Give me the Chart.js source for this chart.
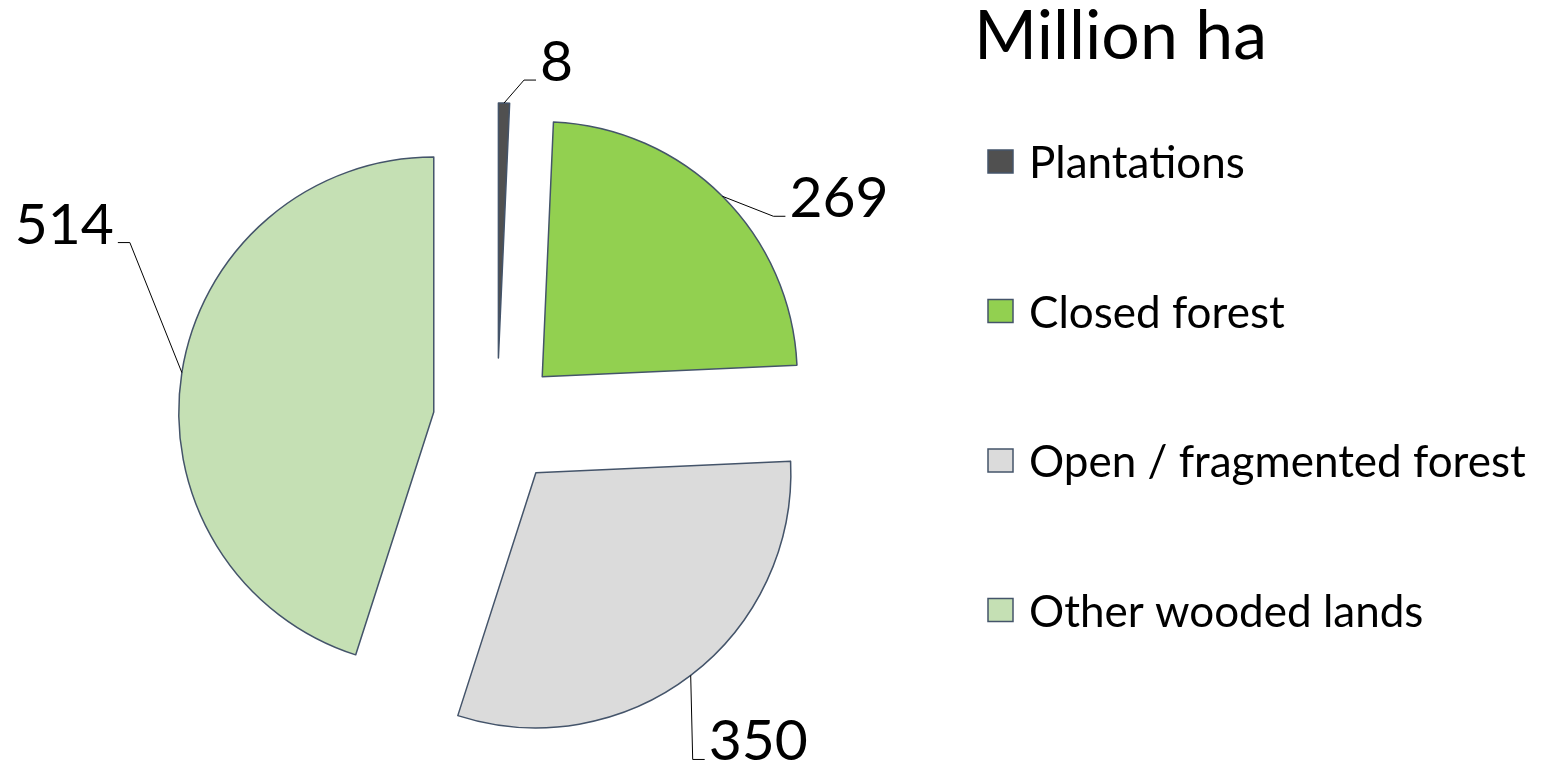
<!DOCTYPE html>
<html>
<head>
<meta charset="utf-8">
<script src="https://cdn.jsdelivr.net/npm/chart.js@4/dist/chart.umd.min.js"></script>
<style>
  html, body { margin: 0; padding: 0; background: #fff; }
  #wrap { width: 1542px; height: 764px; position: relative; }
</style>
</head>
<body>
<div id="wrap"><canvas id="pieChart"></canvas></div>
<script>
// data
const categories = ['Plantations', 'Closed forest', 'Open / fragmented forest', 'Other wooded lands']
const areaMha = [8, 269, 350, 514]
const chartTitle = 'Million ha'

// look
const fills = ['#505050', '#92D050', '#DBDBDB', '#C5E0B4']
const edge = '#44546A'
const FONT = 'Lato, "Noto Sans", sans-serif'
const explode = 64 // px each slice is pulled out
// where the leader line bends, relative to the slice edge
const labelNudge = [[20, -23], [51, 20], [2, 84], [-52, -130]]

// pull slices out from the centre (Chart.js offset also resizes arcs, so do it by hand)
const explodePlugin = {
    id: 'explode',
    beforeDatasetsDraw(chart) {
        const a = chart.chartArea
        const cx = (a.left + a.right) / 2
        const cy = (a.top + a.bottom) / 2
        chart.getDatasetMeta(0).data.forEach((arc) => {
            const mid = (arc.startAngle + arc.endAngle) / 2
            arc.x = cx + Math.cos(mid) * explode
            arc.y = cy + Math.sin(mid) * explode
        })
    }
}

// value labels with leader lines
const labelPlugin = {
    id: 'leaderLabels',
    afterDatasetsDraw(chart) {
        const ctx = chart.ctx
        const values = chart.data.datasets[0].data
        ctx.save()
        ctx.font = '57px ' + FONT
        ctx.fillStyle = '#000'
        ctx.strokeStyle = '#000'
        ctx.lineWidth = 1
        ctx.textBaseline = 'alphabetic'
        chart.getDatasetMeta(0).data.forEach((arc, i) => {
            const mid = (arc.startAngle + arc.endAngle) / 2
            const px = arc.x + Math.cos(mid) * arc.outerRadius
            const py = arc.y + Math.sin(mid) * arc.outerRadius
            const ex = px + labelNudge[i][0]
            const ey = py + labelNudge[i][1]
            const dir = labelNudge[i][0] < 0 ? -1 : 1
            const tx = ex + dir * 12
            ctx.beginPath()
            ctx.moveTo(px, py)
            ctx.lineTo(ex, ey)
            ctx.lineTo(tx, ey)
            ctx.stroke()
            ctx.textAlign = dir < 0 ? 'right' : 'left'
            ctx.fillText(String(values[i]), tx + dir * 4, ey + 1)
        })
        ctx.restore()
    }
}

// legend on the right, Excel style
const legendPlugin = {
    id: 'sideLegend',
    afterDraw(chart) {
        const ctx = chart.ctx
        ctx.save()
        ctx.fillStyle = '#000'
        ctx.textBaseline = 'alphabetic'
        ctx.textAlign = 'left'
        ctx.font = '68px ' + FONT
        ctx.fillText(chartTitle, 974, 59)
        ctx.font = '44px ' + FONT
        categories.forEach((name, i) => {
            const y = 162 + i * 149.5
            ctx.fillStyle = fills[i]
            ctx.fillRect(988, y - 12, 25, 23)
            ctx.strokeStyle = edge
            ctx.lineWidth = 1.5
            ctx.strokeRect(988, y - 12, 25, 23)
            ctx.fillStyle = '#000'
            ctx.fillText(name, 1029, y + 16)
        })
        ctx.restore()
    }
}

const pieCtx = document.getElementById('pieChart').getContext('2d')
new Chart(pieCtx, {
    type: 'pie',
    data: {
        labels: categories,
        datasets: [{
            data: areaMha,
            backgroundColor: fills,
            borderColor: edge,
            borderWidth: 1.5,
            borderJoinStyle: 'round'
        }]
    },
    options: {
        responsive: true,
        maintainAspectRatio: false,
        animation: false,
        events: [],
        radius: 255,
        layout: {
            padding: { left: 0, top: 80, right: 548, bottom: 0 }
        },
        plugins: {
            legend: { display: false },
            tooltip: { enabled: false },
            title: { display: false }
        }
    },
    plugins: [explodePlugin, labelPlugin, legendPlugin]
})
</script>
</body>
</html>
